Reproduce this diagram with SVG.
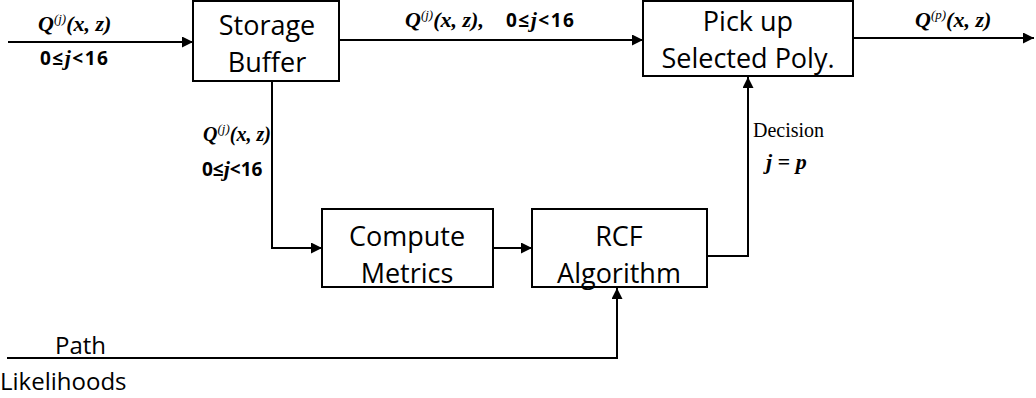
<svg xmlns="http://www.w3.org/2000/svg" width="1036" height="398" viewBox="0 0 1036 398">
  <defs>
    <marker id="arrow" viewBox="0 0 10 10" refX="10" refY="5" markerWidth="11" markerHeight="11" markerUnits="userSpaceOnUse" orient="auto">
      <path d="M0,0 L10,5 L0,10 z" fill="#000"/>
    </marker>
    <style>
      .box { fill: #fff; stroke: #000; stroke-width: 2; }
      .lbl { font-family: "Open Sans", "Liberation Sans", sans-serif; font-size: 27px; fill: #000; text-anchor: middle; }
      .wire { fill: none; stroke: #000; stroke-width: 2; }
      .math { font-family: "Liberation Serif", serif; font-weight: bold; font-style: italic; font-size: 22px; fill: #000; }
      .sm { font-size: 20px; }
      .up { font-size: 13px; font-weight: normal; }
      .num { font-family: "Open Sans", "Liberation Sans", sans-serif; font-weight: bold; font-size: 19px; fill: #000; }
      .ji { font-family: "Liberation Serif", serif; font-style: italic; font-size: 22px; }
      .side { font-family: "Open Sans", "Liberation Sans", sans-serif; font-size: 24px; fill: #000; }
      .dec { font-family: "Liberation Serif", serif; font-size: 20px; fill: #000; }
    </style>
  </defs>

  <!-- wires between the blocks, with their signal labels -->
  <g id="connectors">
    <line class="wire" x1="8" y1="42" x2="193" y2="42" marker-end="url(#arrow)"/>
    <line class="wire" x1="339" y1="40" x2="643" y2="40" marker-end="url(#arrow)"/>
    <line class="wire" x1="853" y1="38" x2="1034" y2="38" marker-end="url(#arrow)"/>
    <polyline class="wire" points="272,81 272,248 322,248" marker-end="url(#arrow)"/>
    <line class="wire" x1="493" y1="248" x2="532" y2="248" marker-end="url(#arrow)"/>
    <polyline class="wire" points="707,256 748,256 748,77" marker-end="url(#arrow)"/>
    <polyline class="wire" points="7,358 617,358 617,288" marker-end="url(#arrow)"/>

    <!-- input -->
    <text class="math" x="38" y="31">Q<tspan class="up" dy="-8">(j)</tspan><tspan dy="8">(x, z)</tspan></text>
    <text class="num" x="40" y="65" letter-spacing="1.5">0≤<tspan class="ji">j</tspan>&lt;16</text>

    <!-- buffer to selector -->
    <text class="math" x="405" y="27">Q<tspan class="up" dy="-8">(j)</tspan><tspan dy="8">(x, z),</tspan></text>
    <text class="num" x="506" y="27" letter-spacing="1.5">0≤<tspan class="ji">j</tspan>&lt;16</text>

    <!-- output -->
    <text class="math" x="915" y="27">Q<tspan class="up" dy="-8">(p)</tspan><tspan dy="8">(x, z)</tspan></text>

    <!-- buffer to metrics -->
    <text class="math sm" x="203" y="141">Q<tspan class="up" dy="-8">(j)</tspan><tspan dy="8">(x, z)</tspan></text>
    <text class="num" x="202" y="176">0≤<tspan class="ji">j</tspan>&lt;16</text>

    <!-- decision -->
    <text class="dec" x="753" y="137">Decision</text>
    <text class="math" x="766" y="169">j = p</text>

    <!-- path likelihoods -->
    <text class="side" x="55" y="354">Path</text>
    <text class="side" x="0" y="390">Likelihoods</text>
  </g>

  <g id="storage-buffer">
    <rect class="box" x="193" y="1" width="146" height="80"/>
    <text class="lbl" x="267" y="35">Storage</text>
    <text class="lbl" x="267" y="72">Buffer</text>
  </g>

  <g id="pick-up">
    <rect class="box" x="643" y="1" width="210" height="75"/>
    <text class="lbl" x="748" y="31">Pick up</text>
    <text class="lbl" x="748" y="68">Selected Poly.</text>
  </g>

  <g id="compute-metrics">
    <rect class="box" x="322" y="209" width="171" height="78"/>
    <text class="lbl" x="407" y="246">Compute</text>
    <text class="lbl" x="407" y="283">Metrics</text>
  </g>

  <g id="rcf-algorithm">
    <rect class="box" x="532" y="209" width="175" height="78"/>
    <text class="lbl" x="619" y="246">RCF</text>
    <text class="lbl" x="619" y="283">Algorithm</text>
  </g>
</svg>
